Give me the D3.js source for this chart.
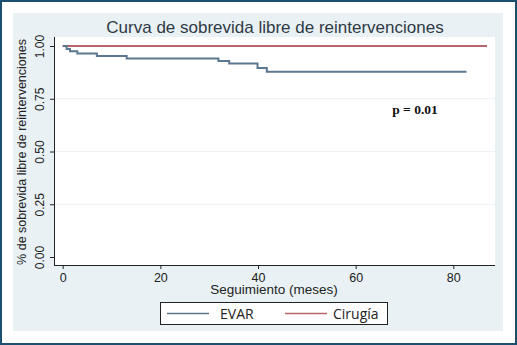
<!DOCTYPE html>
<html><head><meta charset="utf-8">
<script src="https://cdn.jsdelivr.net/npm/d3@7"></script>
<style>body{margin:0;background:#fff}svg{display:block}</style>
</head><body>
<script>
const title = "Curva de sobrevida libre de reintervenciones";
const xLabel = "Seguimiento (meses)";
const yLabel = "% de sobrevida libre de reintervenciones";
const xTicks = [0, 20, 40, 60, 80];
const yTicks = [0, 0.25, 0.5, 0.75, 1];
const evarTime = [0, 0.8, 1.5, 3, 7, 13.1, 31.9, 34.1, 39.9, 41.8, 82.7];
const evarSurv = [1, 0.986, 0.975, 0.964, 0.953, 0.941, 0.929, 0.917, 0.896, 0.878, 0.878];
const cirTime = [0, 86.9];
const cirSurv = [1, 1];
const seriesNames = ["EVAR", "Cirugía"];
const seriesColors = ["#5b7890", "#b8646d"];
const pText = "p = 0.01";

const W = 517, H = 345;
const svg = d3.select("body").append("svg").attr("width", W).attr("height", H);
svg.append("rect").attr("x", 1).attr("y", 1).attr("width", W - 2).attr("height", H - 2)
  .attr("fill", "#fff").attr("stroke", "#1d4f70").attr("stroke-width", 2);
svg.append("rect").attr("x", 13).attr("y", 13).attr("width", 490).attr("height", 318).attr("fill", "#e9f1f5");
const pl = 54, pr = 495, pt = 37, pb = 265;
svg.append("rect").attr("x", pl).attr("y", pt).attr("width", pr - pl).attr("height", pb - pt).attr("fill", "#fff");

const x = d3.scaleLinear().domain([0, 80]).range([62.7, 453.3]);
const y = d3.scaleLinear().domain([0, 1]).range([257, 46]);

svg.append("g").selectAll("line").data(yTicks.filter(d => d > 0 && d < 1)).join("line")
  .attr("x1", pl).attr("x2", pr).attr("y1", d => y(d)).attr("y2", d => y(d))
  .attr("stroke", "#eef2f4").attr("stroke-width", 1);

const xAxis = svg.append("g").attr("transform", `translate(0,${pb})`)
  .call(d3.axisBottom(x).tickValues(xTicks).tickSize(4).tickPadding(4).tickFormat(d3.format("d")));
xAxis.select(".domain").attr("d", `M${pl},0.5H${pr}`).attr("stroke", "#222");
xAxis.selectAll("text").attr("font-family", "Liberation Sans, Arial, sans-serif").attr("font-size", 12.5).attr("fill", "#222");
xAxis.selectAll(".tick line").attr("stroke", "#222");

const yAxis = svg.append("g").attr("transform", `translate(${pl},0)`)
  .call(d3.axisLeft(y).tickValues(yTicks).tickSize(4).tickFormat(d3.format(".2f")));
yAxis.select(".domain").attr("d", `M0.5,${pt}V${pb}`).attr("stroke", "#222");
yAxis.selectAll(".tick line").attr("stroke", "#222");
yAxis.selectAll(".tick text").attr("transform", "rotate(-90)").attr("x", 0).attr("y", -10)
  .attr("dy", "0").attr("text-anchor", "middle")
  .attr("font-family", "Liberation Sans, Arial, sans-serif").attr("font-size", 12).attr("fill", "#222");

const stepLine = d3.line().curve(d3.curveStepAfter).x(d => x(d[0])).y(d => y(d[1]));
svg.append("path").datum(cirTime.map((t, i) => [t, cirSurv[i]]))
  .attr("d", stepLine).attr("fill", "none").attr("stroke", seriesColors[1]).attr("stroke-width", 2);
svg.append("path").datum(evarTime.map((t, i) => [t, evarSurv[i]]))
  .attr("d", stepLine).attr("fill", "none").attr("stroke", seriesColors[0]).attr("stroke-width", 2);

svg.append("text").attr("x", 275).attr("y", 33).attr("text-anchor", "middle")
  .attr("font-family", "Liberation Sans, Arial, sans-serif").attr("font-size", 17).attr("fill", "#2f3a44").text(title);
svg.append("text").attr("x", 274).attr("y", 294).attr("text-anchor", "middle")
  .attr("font-family", "Liberation Sans, Arial, sans-serif").attr("font-size", 13.5).attr("fill", "#222").text(xLabel);
svg.append("text").attr("transform", "translate(26,152) rotate(-90)").attr("text-anchor", "middle")
  .attr("font-family", "Liberation Sans, Arial, sans-serif").attr("font-size", 12.5).attr("fill", "#222").text(yLabel);

svg.append("text").attr("x", 415).attr("y", 114).attr("text-anchor", "middle")
  .attr("font-family", "Liberation Serif, serif").attr("font-weight", "bold").attr("font-size", 13.5).attr("fill", "#111").text(pText);

const lg = svg.append("g");
lg.append("rect").attr("x", 160.5).attr("y", 302.5).attr("width", 227).attr("height", 22)
  .attr("fill", "#fff").attr("stroke", "#222").attr("stroke-width", 1);
const legItems = [{lx: 167, tx: 220}, {lx: 285, tx: 333}];
seriesNames.forEach((n, i) => {
  lg.append("line").attr("x1", legItems[i].lx).attr("x2", legItems[i].lx + 42)
    .attr("y1", 313.5).attr("y2", 313.5).attr("stroke", seriesColors[i]).attr("stroke-width", 1.5);
  lg.append("text").attr("x", legItems[i].tx).attr("y", 318.5)
    .attr("font-family", "Open Sans, sans-serif").attr("font-size", 14).attr("fill", "#222").text(n);
});
</script>
</body></html>
